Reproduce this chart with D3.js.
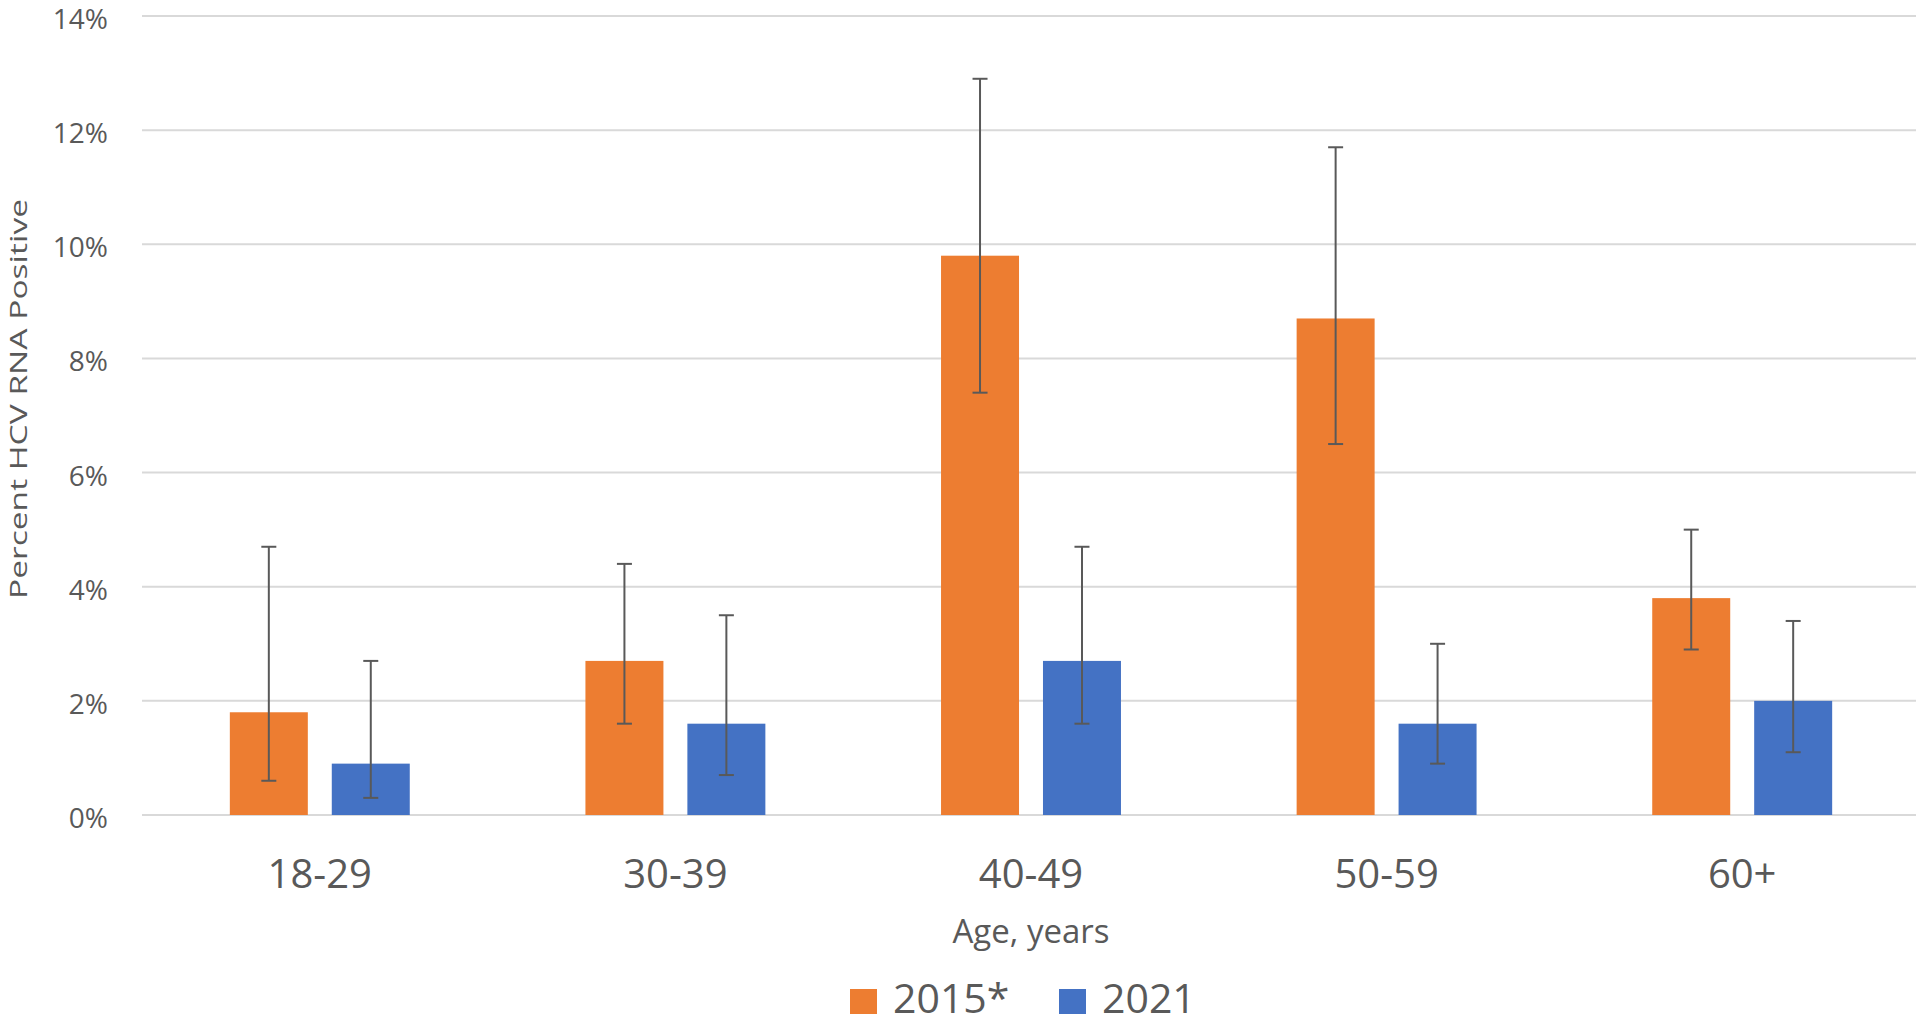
<!DOCTYPE html>
<html>
<head>
<meta charset="utf-8">
<script src="https://cdn.jsdelivr.net/npm/d3@7"></script>
<style>
  body { margin: 0; background: #fff; }
  text { font-family: "Open Sans", "Noto Sans", sans-serif; fill: #595959; }
</style>
</head>
<body>
<div id="chart"></div>
<script>
// age groups and the two survey years
var ageGroups = ["18-29", "30-39", "40-49", "50-59", "60+"];
var years = ["2015*", "2021"];

// percent HCV RNA positive, with confidence limits
var val2015 = [1.8, 2.7, 9.8, 8.7, 3.8];
var lo2015  = [0.6, 1.6, 7.4, 6.5, 2.9];
var hi2015  = [4.7, 4.4, 12.9, 11.7, 5.0];

var val2021 = [0.9, 1.6, 2.7, 1.6, 2.0];
var lo2021  = [0.3, 0.7, 1.6, 0.9, 1.1];
var hi2021  = [2.7, 3.5, 4.7, 3.0, 3.4];

var yTicks = [0, 2, 4, 6, 8, 10, 12, 14];
var colors = ["#ED7D31", "#4472C4"];

var width = 1920,
    height = 1023;

var svg = d3.select("#chart")
    .append("svg")
    .attr("width", width)
    .attr("height", height);

// plot area edges (window.top is taken, so no bare "top")
var plotLeft = 142, plotRight = 1920, plotTop = 16, plotBottom = 815;

var y = d3.scaleLinear()
    .domain([0, 14])
    .range([plotBottom, plotTop]);

var x0 = d3.scaleBand()
    .domain(ageGroups)
    .range([plotLeft, plotRight])
    .paddingInner(0.494)
    .paddingOuter(0.247);

var x1 = d3.scaleBand()
    .domain(years)
    .range([0, x0.bandwidth()])
    .paddingInner(0.235);

// gridlines
svg.append("g")
    .selectAll("line")
    .data(yTicks)
    .enter()
    .append("line")
    .attr("x1", plotLeft)
    .attr("x2", plotRight - 4)
    .attr("y1", function (d) { return y(d); })
    .attr("y2", function (d) { return y(d); })
    .attr("stroke", "#d9d9d9")
    .attr("stroke-width", 2);

// y tick labels
svg.append("g")
    .selectAll("text")
    .data(yTicks)
    .enter()
    .append("text")
    .attr("x", 108)
    .attr("y", function (d) { return y(d) + 13; })
    .attr("text-anchor", "end")
    .attr("font-size", 28)
    .text(function (d) { return d + "%"; });

var series = [
    { key: years[0], vals: val2015, lo: lo2015, hi: hi2015, color: colors[0] },
    { key: years[1], vals: val2021, lo: lo2021, hi: hi2021, color: colors[1] }
];

var bars = svg.append("g");
var errs = svg.append("g");

series.forEach(function (s) {
    var rows = ageGroups.map(function (g, i) {
        return { group: g, v: s.vals[i], lo: s.lo[i], hi: s.hi[i] };
    });

    bars.selectAll(null)
        .data(rows)
        .enter()
        .append("rect")
        .attr("x", function (d) { return x0(d.group) + x1(s.key); })
        .attr("y", function (d) { return y(d.v); })
        .attr("width", x1.bandwidth())
        .attr("height", function (d) { return y(0) - y(d.v); })
        .attr("fill", s.color);

    var cx = function (d) { return x0(d.group) + x1(s.key) + x1.bandwidth() / 2; };

    // error bar stems
    errs.selectAll(null)
        .data(rows)
        .enter()
        .append("line")
        .attr("x1", cx)
        .attr("x2", cx)
        .attr("y1", function (d) { return y(d.lo); })
        .attr("y2", function (d) { return y(d.hi); })
        .attr("stroke", "#595959")
        .attr("stroke-width", 2);

    // caps
    ["lo", "hi"].forEach(function (k) {
        errs.selectAll(null)
            .data(rows)
            .enter()
            .append("line")
            .attr("x1", function (d) { return cx(d) - 7.5; })
            .attr("x2", function (d) { return cx(d) + 7.5; })
            .attr("y1", function (d) { return y(d[k]); })
            .attr("y2", function (d) { return y(d[k]); })
            .attr("stroke", "#595959")
            .attr("stroke-width", 2);
    });
});

// category labels
svg.append("g")
    .selectAll("text")
    .data(ageGroups)
    .enter()
    .append("text")
    .attr("x", function (d) { return x0(d) + x0.bandwidth() / 2; })
    .attr("y", 888)
    .attr("text-anchor", "middle")
    .attr("font-size", 40)
    .text(function (d) { return d; });

// axis titles
svg.append("text")
    .attr("x", 1031)
    .attr("y", 943)
    .attr("text-anchor", "middle")
    .attr("font-size", 33)
    .text("Age, years");

svg.append("text")
    .attr("transform", "translate(27,399) rotate(-90)")
    .attr("text-anchor", "middle")
    .attr("font-size", 24)
    .attr("textLength", 400)
    .attr("lengthAdjust", "spacingAndGlyphs")
    .text("Percent HCV RNA Positive");

// legend
var legendX = [850, 1059];
var legend = svg.append("g")
    .selectAll("g")
    .data(series)
    .enter()
    .append("g")
    .attr("transform", function (d, i) { return "translate(" + legendX[i] + ",0)"; });

legend.append("rect")
    .attr("x", 0)
    .attr("y", 989)
    .attr("width", 27)
    .attr("height", 25)
    .attr("fill", function (d) { return d.color; });

legend.append("text")
    .attr("x", 43)
    .attr("y", 1013)
    .attr("font-size", 41)
    .text(function (d) { return d.key; });
</script>
</body>
</html>
